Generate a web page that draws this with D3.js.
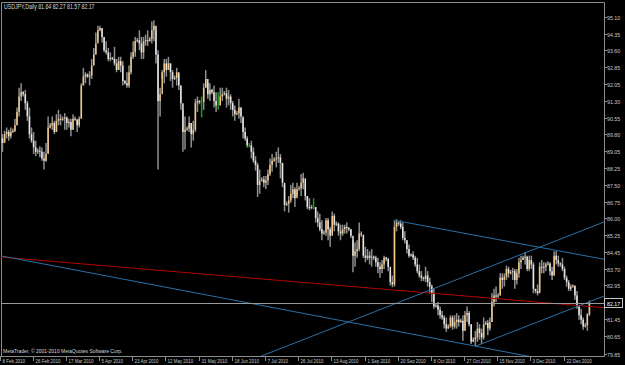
<!DOCTYPE html>
<html>
<head>
<meta charset="utf-8">
<script src="https://cdnjs.cloudflare.com/ajax/libs/d3/7.8.5/d3.min.js"></script>
<style>
  body { margin: 0; background: #000; }
  svg { display: block; }
  text { font-family: "Liberation Sans", Arial, sans-serif; }
</style>
</head>
<body>
<div id="chart"></div>
<script>
// USDJPY daily, 8 Feb 2010 .. 4 Jan 2011 (MT4 feed incl. Sunday bars)
const firstOpen = 89.60;
const closes = [
  89.40,89.80,89.90,89.70,89.90,89.95,90.20,90.80,91.50,91.70,
  91.60,91.20,90.60,89.80,89.50,89.20,89.00,89.05,89.00,88.70,
  88.60,88.90,90.10,90.20,90.30,89.90,90.40,90.50,90.45,90.50,
  90.55,90.30,90.35,90.00,90.50,90.45,90.20,90.50,92.00,92.40,
  92.50,92.40,92.45,92.90,93.40,93.90,94.50,94.60,94.20,93.60,
  93.50,93.20,93.25,93.20,93.00,92.70,93.10,92.90,92.20,92.10,
  92.00,92.60,93.30,93.50,94.00,94.05,93.90,93.50,94.00,94.05,
  94.00,94.10,94.50,94.70,93.40,91.30,91.60,92.60,93.00,92.70,
  93.00,92.60,92.30,92.35,92.60,92.00,91.20,89.90,90.00,90.05,
  90.30,89.80,90.00,91.20,91.30,91.25,91.25,91.90,92.30,91.60,
  91.80,91.70,91.30,91.10,91.10,91.50,91.60,91.65,91.40,91.50,
  91.20,90.90,90.70,90.75,91.00,90.60,89.90,89.60,89.30,89.30,
  89.00,88.60,88.40,87.50,87.70,87.75,87.60,87.70,88.00,88.40,
  88.60,88.65,88.70,88.75,88.50,87.60,86.60,86.65,86.80,87.10,
  87.30,86.90,87.30,87.35,87.60,87.80,87.00,86.50,86.45,86.50,
  86.50,86.00,85.80,85.50,85.30,85.35,85.90,85.50,85.20,86.10,
  85.70,85.75,85.40,85.30,85.50,85.60,85.55,85.50,85.20,84.30,
  84.50,84.60,85.30,85.25,84.30,84.20,84.30,84.20,84.25,84.20,
  84.00,83.80,83.70,83.90,84.20,84.15,83.80,83.10,83.00,85.60,
  85.80,85.75,85.60,85.10,85.00,84.60,84.30,84.35,84.20,83.90,
  83.60,83.40,83.30,83.25,83.40,83.10,82.90,82.60,82.00,82.05,
  81.85,81.60,81.50,81.20,81.00,81.10,81.50,81.10,81.30,81.40,
  81.30,81.35,80.90,81.60,81.70,81.20,80.40,80.50,80.60,81.00,
  80.80,80.60,81.20,81.25,81.00,81.30,82.20,82.50,82.45,82.50,
  83.30,83.20,83.35,83.70,83.50,83.55,83.60,83.20,83.50,84.00,
  84.10,84.20,84.25,83.70,84.10,83.90,82.80,82.70,82.60,83.80,
  83.75,83.80,83.90,83.95,83.60,83.40,84.30,84.10,83.95,83.90,
  83.70,83.30,83.10,82.80,82.90,82.95,82.50,82.00,81.60,81.40,
  81.10,81.15,81.64,82.17
];
const highs = [
  89.80,89.95,90.10,90.00,90.10,90.05,90.50,91.00,91.90,92.10,
  91.75,91.80,91.30,91.00,90.10,89.90,89.50,89.15,89.25,89.20,
  89.00,89.40,90.60,90.30,90.60,90.40,90.70,90.90,90.70,90.60,
  90.75,90.60,90.50,90.50,90.70,90.60,90.50,90.60,92.10,92.80,
  92.60,92.55,92.65,93.20,93.70,94.40,94.70,94.70,94.55,94.20,
  94.00,93.70,93.50,93.30,93.75,93.20,93.30,93.30,93.10,92.25,
  92.60,92.90,93.50,94.00,94.20,94.15,94.50,94.20,94.20,94.30,
  94.50,94.20,94.90,94.95,94.50,93.60,91.90,92.70,93.20,93.20,
  93.30,93.00,92.70,92.45,92.80,92.50,92.00,90.90,90.60,90.15,
  90.60,90.30,90.40,91.40,91.50,91.35,91.50,92.10,92.70,92.10,
  92.10,91.85,92.00,91.70,91.70,91.90,91.90,91.75,91.90,91.80,
  91.60,91.30,91.10,90.85,91.40,91.00,90.50,90.10,89.70,89.40,
  89.50,89.20,88.80,88.50,88.20,87.85,87.90,87.90,88.20,88.70,
  88.90,88.75,89.00,89.20,88.90,88.50,87.50,86.75,87.00,87.50,
  87.60,87.40,87.60,87.45,88.00,88.05,87.60,87.00,86.90,86.60,
  86.90,86.50,86.30,86.20,85.90,85.45,86.00,86.00,85.60,86.30,
  86.20,85.85,85.80,85.70,85.70,85.70,85.80,85.60,85.50,85.00,
  84.90,85.00,85.80,85.40,85.10,84.70,84.60,84.50,84.60,84.30,
  84.30,84.20,84.00,84.10,84.30,84.25,84.20,83.60,83.40,85.90,
  85.95,85.85,85.90,85.80,85.40,85.00,84.80,84.40,84.50,84.30,
  84.20,83.90,83.60,83.35,83.80,83.60,83.30,83.00,82.80,82.15,
  82.20,82.00,81.80,81.60,81.50,81.20,81.60,81.60,81.60,81.70,
  81.60,81.45,81.60,81.80,82.00,81.80,81.20,80.60,80.90,81.30,
  81.20,81.00,81.50,81.35,81.40,81.50,82.60,82.80,82.90,82.60,
  83.50,83.50,83.50,83.85,83.80,83.65,83.75,83.70,83.70,84.20,
  84.30,84.30,84.45,84.30,84.30,84.30,84.00,82.80,83.00,84.00,
  84.10,84.00,84.00,84.05,84.00,83.80,84.50,84.50,84.30,84.00,
  84.20,83.80,83.40,83.20,83.00,83.00,82.90,82.70,82.00,81.90,
  81.50,81.25,81.70,82.27
];
const lows = [
  89.00,89.45,89.60,89.50,89.60,89.85,89.90,90.20,90.60,91.30,
  91.50,90.90,90.40,89.60,89.40,88.90,88.80,88.90,88.75,88.60,
  88.20,88.55,88.95,90.05,90.00,89.80,89.90,90.20,90.20,90.40,
  90.00,90.00,90.10,89.70,90.00,90.40,89.90,90.10,90.50,92.00,
  92.10,92.35,92.00,92.30,92.90,93.40,94.00,94.45,93.95,93.50,
  93.40,93.10,93.10,93.15,92.90,92.60,92.70,92.60,92.00,92.05,
  91.90,91.90,92.50,93.20,93.30,93.95,93.60,93.20,93.20,93.80,
  93.80,94.00,93.90,94.00,93.00,88.20,90.60,92.30,92.10,92.40,
  92.70,92.20,91.90,92.25,92.00,91.80,90.90,89.00,89.10,89.95,
  89.90,89.20,89.50,89.90,90.80,91.15,90.55,90.90,91.90,91.40,
  91.30,91.60,91.00,90.80,90.90,91.10,91.30,91.55,91.00,91.10,
  90.90,90.60,90.40,90.65,90.50,90.30,89.60,89.50,89.20,89.20,
  88.70,88.50,88.15,86.95,87.10,87.65,87.40,87.30,87.50,87.90,
  88.10,88.55,88.30,88.50,87.80,87.40,86.30,86.55,86.25,86.70,
  86.90,86.50,87.00,87.25,87.00,87.30,86.80,86.40,86.35,86.40,
  86.40,85.80,85.60,85.40,85.00,85.25,85.20,85.00,84.70,85.30,
  85.40,85.65,85.20,85.00,85.20,85.30,85.30,85.40,85.10,83.55,
  83.80,84.20,84.50,85.15,84.20,84.00,84.10,83.90,83.80,84.10,
  83.80,83.50,83.30,83.50,83.70,84.05,83.60,82.95,82.87,82.90,
  85.40,85.65,85.50,85.00,84.85,84.40,84.20,84.25,84.10,83.80,
  83.50,83.30,83.15,83.15,83.10,82.90,82.60,82.20,81.90,81.95,
  81.60,81.45,81.40,81.00,80.85,81.00,81.05,80.95,81.00,81.00,
  81.10,81.25,80.45,80.90,81.30,81.10,80.30,80.40,80.20,80.40,
  80.50,80.30,80.50,81.15,80.70,80.90,81.30,82.00,82.20,82.40,
  82.50,82.80,82.90,83.20,83.30,83.45,83.20,82.80,83.00,83.30,
  83.70,84.10,83.90,83.60,83.60,83.70,82.60,82.60,82.50,82.70,
  83.50,83.50,83.60,83.85,83.40,83.20,83.40,83.90,83.80,83.80,
  83.60,83.20,82.90,82.70,82.70,82.85,82.30,81.90,81.40,81.20,
  80.95,81.05,80.90,81.57
];

// right price scale labels
const priceTicks = [95.10,94.35,93.60,92.85,92.05,91.30,90.55,89.80,89.05,88.25,
                    87.50,86.75,86.00,85.25,84.45,83.70,82.95,81.45,80.65,79.85];
// bottom time labels, one every 16 bars
const dateLabels = ["8 Feb 2010","26 Feb 2010","17 Mar 2010","5 Apr 2010","23 Apr 2010",
  "12 May 2010","31 May 2010","18 Jun 2010","7 Jul 2010","26 Jul 2010","13 Aug 2010",
  "1 Sep 2010","20 Sep 2010","8 Oct 2010","27 Oct 2010","15 Nov 2010","3 Dec 2010","22 Dec 2010"];
const labelStep = 16;

// trend lines as [barIndex, price] anchor pairs
const redLine   = [[-1.2, 84.24], [289.5, 81.95]];
const blueLines = [[[-1.2, 84.30], [242.3, 79.95]], [[143.4, 80.44], [290.5, 85.84]]];
const blueRays  = [[[189, 85.90], [290.5, 84.13]], [[228, 80.20], [290.5, 82.49]]];

const bidPrice = 82.17;
const title = "USDJPY,Daily  81.64 82.27 81.57 82.17";
const copyright = "MetaTrader, \u00A9 2001-2010 MetaQuotes Software Corp.";

const W = 625, H = 365;
const plot = {left: 1, top: 2, right: 604, bottom: 356};

const svg = d3.select('#chart').append('svg')
  .attr('width', W)
  .attr('height', H)
  .style('background', '#000');

const x = d3.scaleLinear().domain([0, 272]).range([2.5, 566.6]);
const y = d3.scaleLinear().domain([79.85, 95.10]).range([354, 17]);

svg.append('clipPath').attr('id', 'plotClip')
  .append('rect')
  .attr('x', plot.left).attr('y', plot.top)
  .attr('width', plot.right - plot.left).attr('height', plot.bottom - plot.top);

// frame
svg.append('path')
  .attr('d', `M${plot.left + 0.5},${plot.bottom}V${plot.top + 0.5}H${plot.right + 0.5}V${plot.bottom + 0.5}H${plot.left}`)
  .attr('fill', 'none')
  .attr('stroke', '#8c8c8c')
  .attr('stroke-width', 1);

const g = svg.append('g').attr('clip-path', 'url(#plotClip)');

// bars
const bars = closes.map((c, i) => ({
  i, o: i === 0 ? firstOpen : closes[i - 1], h: highs[i], l: lows[i], c
}));

g.selectAll('.wick')
  .data(bars)
  .enter().append('line')
  .attr('class', 'wick')
  .attr('x1', d => x(d.i)).attr('x2', d => x(d.i))
  .attr('y1', d => y(d.h)).attr('y2', d => y(d.l))
  .attr('stroke', d => Math.abs(d.c - d.o) < 0.005 ? '#1f9a1f' : '#8e8e8e')
  .attr('stroke-width', 1.5);

g.selectAll('.body')
  .data(bars.filter(d => Math.abs(d.c - d.o) >= 0.005))
  .enter().append('line')
  .attr('class', 'body')
  .attr('x1', d => x(d.i)).attr('x2', d => x(d.i))
  .attr('y1', d => y(d.o)).attr('y2', d => y(d.c))
  .attr('stroke', d => d.c > d.o ? '#f2c683' : '#e6e6e6')
  .attr('stroke-width', 1.5);

// trend lines
function extend(p1, p2, both) {
  const slope = (p2[1] - p1[1]) / (p2[0] - p1[0]);
  const a = both ? -20 : p1[0];
  const b = 310;
  return [[a, p1[1] + slope * (a - p1[0])], [b, p1[1] + slope * (b - p1[0])]];
}
const lineGen = d3.line().x(d => x(d[0])).y(d => y(d[1]));

g.append('path')
  .attr('d', lineGen(extend(redLine[0], redLine[1], true)))
  .attr('stroke', '#b40000').attr('stroke-width', 1).attr('fill', 'none');

blueLines.forEach(l => {
  g.append('path')
    .attr('d', lineGen(extend(l[0], l[1], true)))
    .attr('stroke', '#2a6fa5').attr('stroke-width', 1).attr('fill', 'none');
});
blueRays.forEach(l => {
  g.append('path')
    .attr('d', lineGen(extend(l[0], l[1], false)))
    .attr('stroke', '#2a6fa5').attr('stroke-width', 1).attr('fill', 'none');
});

// bid line
g.append('line')
  .attr('x1', plot.left).attr('x2', plot.right)
  .attr('y1', Math.round(y(bidPrice)) + 0.5).attr('y2', Math.round(y(bidPrice)) + 0.5)
  .attr('stroke', '#9a9a9a').attr('stroke-width', 1);

// right price axis
const yAxis = svg.append('g');
priceTicks.forEach(v => {
  const yy = Math.round(y(v)) + 0.5;
  yAxis.append('line')
    .attr('x1', plot.right).attr('x2', plot.right + 3)
    .attr('y1', yy).attr('y2', yy)
    .attr('stroke', '#8c8c8c');
  yAxis.append('text')
    .attr('transform', `translate(${plot.right + 3},${yy + 2.2}) scale(0.85,1)`)
    .attr('font-size', 6.2)
    .attr('fill', '#c8c8c8')
    .text(v.toFixed(2));
});

// bid price box
const by = Math.round(y(bidPrice));
yAxis.append('rect')
  .attr('x', plot.right + 0.5).attr('y', by - 4.5)
  .attr('width', 18).attr('height', 9)
  .attr('fill', '#000').attr('stroke', '#c8c8c8');
yAxis.append('text')
  .attr('transform', `translate(${plot.right + 3},${by + 2.5}) scale(0.85,1)`)
  .attr('font-size', 6.2)
  .attr('fill', '#ffffff')
  .text(bidPrice.toFixed(2));

// bottom time axis
const xAxis = svg.append('g');
dateLabels.forEach((s, k) => {
  const xx = Math.round(x(k * labelStep)) - 2.5;
  xAxis.append('line')
    .attr('x1', xx).attr('x2', xx)
    .attr('y1', plot.bottom).attr('y2', plot.bottom + 5)
    .attr('stroke', '#8c8c8c');
  xAxis.append('text')
    .attr('transform', `translate(${xx + 2},${H - 2}) scale(0.72,1)`)
    .attr('font-size', 6.2)
    .attr('fill', '#c8c8c8')
    .text(s);
});

// captions
svg.append('text')
  .attr('transform', `translate(4,9) scale(0.8,1)`)
  .attr('font-size', 6.5)
  .attr('fill', '#d8d8d8')
  .text(title);

svg.append('text')
  .attr('transform', `translate(3,${plot.bottom - 3}) scale(0.8,1)`)
  .attr('font-size', 6.2)
  .attr('fill', '#d8d8d8')
  .text(copyright);
</script>
</body>
</html>
